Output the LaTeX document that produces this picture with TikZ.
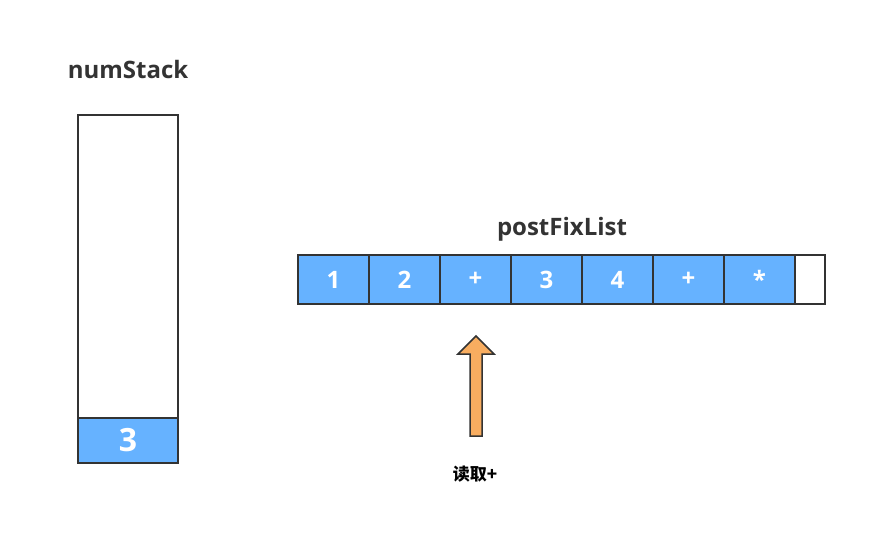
\documentclass[tikz,border=0pt]{standalone}
\usepackage{fontspec}
\setmainfont{Open Sans}
\newfontfamily\cjk{Noto Sans CJK SC}
\usetikzlibrary{positioning}

\definecolor{cellblue}{HTML}{66B2FF}
\definecolor{darkline}{HTML}{333333}
\definecolor{ptrorange}{HTML}{F8AD60}

\tikzset{
  box/.style={draw=darkline, line width=1.5pt, inner sep=0pt, outer sep=0pt},
  cell/.style={box, fill=cellblue, text=white, minimum width=71pt, minimum height=49pt,
    font=\bfseries\fontsize{24}{24}\selectfont},
  title/.style={text=darkline, font=\bfseries\fontsize{24}{24}\selectfont},
}

\begin{document}
\begin{tikzpicture}[x=1pt, y=-1pt]
    \useasboundingbox (0,0) rectangle (887,554);

    % numStack
    \node[title] (stacktitle) at (128,69) {numStack};
    \node[box, minimum width=100pt, minimum height=348pt] (stack) at (128,289) {};
    \node[cell, minimum width=100pt, minimum height=45pt, anchor=south,
      font=\bfseries\fontsize{32}{32}\selectfont] (top) at (stack.south) {3};

    % postFixList
    \node[title] (listtitle) at (562,229) {postFixList};
    \node[cell] (c1) at (333.5,279.5) {1};
    \node[cell, right=0pt of c1] (c2) {2};
    \node[cell, right=0pt of c2] (c3) {+};
    \node[cell, right=0pt of c3] (c4) {3};
    \node[cell, right=0pt of c4] (c5) {4};
    \node[cell, right=0pt of c5] (c6) {+};
    \node[cell, right=0pt of c6] (c7) {*};
    \node[box, minimum width=30pt, minimum height=49pt, right=0pt of c7] (c8) {};

    % read pointer
    \draw[draw=darkline, fill=ptrorange, line width=1.5pt, line join=miter]
      (470,436) -- (470,354) -- (458,354) -- (476,336) -- (494,354)
      -- (482,354) -- (482,436) -- cycle;
    \node[font=\cjk\bfseries\fontsize{17}{17}\selectfont] (readlabel) at (475,474) {读取+};
\end{tikzpicture}
\end{document}
